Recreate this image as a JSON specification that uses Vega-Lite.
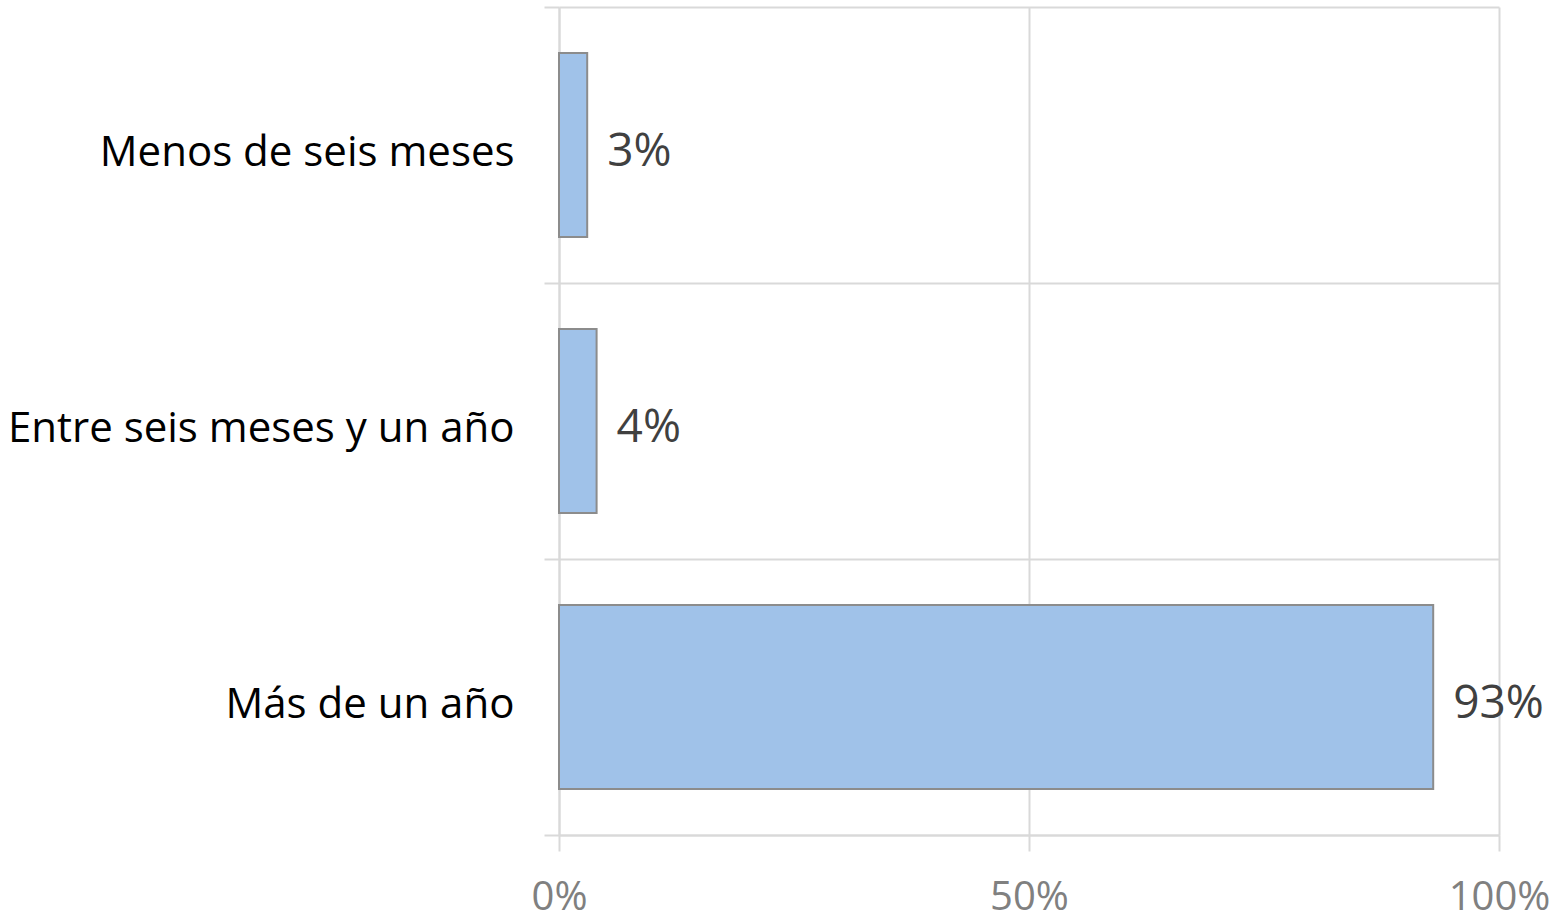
{
  "$schema": "https://vega.github.io/schema/vega-lite/v6.json",
  "width": 940,
  "height": 828,
  "autosize": {"type": "none"},
  "padding": {"left": 559, "top": 7, "right": 64, "bottom": 85},
  "background": "white",
  "config": {"view": {"stroke": null}},
  "data": {
    "values": [
      {"category": "Menos de seis meses", "value": 0.03, "label": "3%"},
      {"category": "Entre seis meses y un año", "value": 0.04, "label": "4%"},
      {"category": "Más de un año", "value": 0.93, "label": "93%"}
    ]
  },
  "encoding": {
    "y": {
      "field": "category",
      "type": "nominal",
      "sort": null,
      "scale": {"paddingInner": 0, "paddingOuter": 0},
      "axis": {
        "title": null,
        "tickBand": "extent",
        "grid": true,
        "gridColor": "#d9d9d9",
        "gridWidth": 2,
        "domainColor": "#d9d9d9",
        "domainWidth": 2,
        "tickColor": "#d9d9d9",
        "tickWidth": 2,
        "tickSize": 15,
        "labelPadding": 30,
        "labelOffset": 7,
        "labelFont": "Open Sans",
        "labelFontSize": 42,
        "labelColor": "#000000",
        "labelLimit": 600
      }
    },
    "x": {
      "field": "value",
      "type": "quantitative",
      "scale": {"domain": [0, 1]},
      "axis": {
        "title": null,
        "values": [0, 0.5, 1],
        "format": "%",
        "grid": true,
        "gridColor": "#d9d9d9",
        "gridWidth": 2,
        "domainColor": "#d9d9d9",
        "domainWidth": 2,
        "tickColor": "#d9d9d9",
        "tickWidth": 2,
        "tickSize": 16,
        "labelPadding": 26,
        "labelFont": "Open Sans",
        "labelFontSize": 40,
        "labelColor": "#808080",
        "labelFlush": false
      }
    }
  },
  "layer": [
    {
      "mark": {"type": "bar", "height": {"band": 0.667}, "fill": "#A0C2E9", "stroke": "#8c8c8c", "strokeWidth": 2}
    },
    {
      "mark": {"type": "text", "align": "left", "baseline": "middle", "dx": 20, "dy": 7, "font": "Open Sans", "fontSize": 46, "color": "#404040"},
      "encoding": {"text": {"field": "label"}}
    }
  ]
}
